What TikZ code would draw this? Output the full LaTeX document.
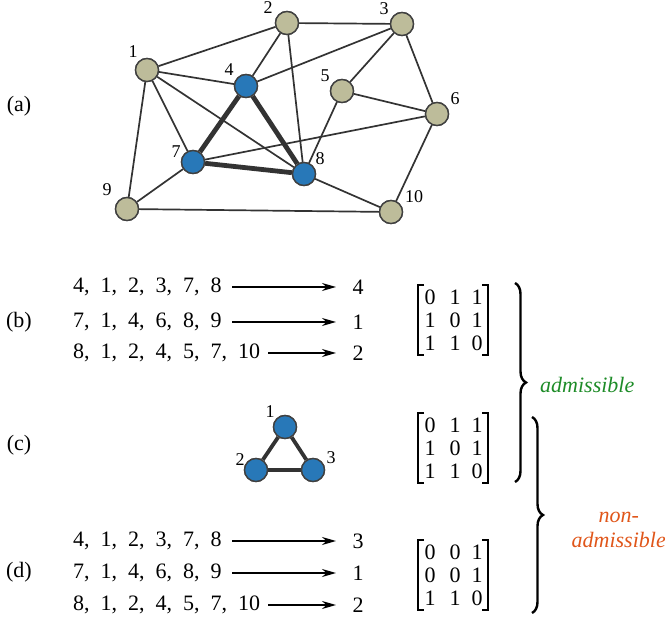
\documentclass[tikz,border=0pt]{standalone}
\usepackage{fontspec}
\setmainfont{Liberation Serif}
\usetikzlibrary{decorations.pathreplacing,arrows.meta}
\definecolor{khaki}{HTML}{BDBC9A}
\definecolor{nblue}{HTML}{2878B8}
\definecolor{adm}{HTML}{1E8C28}
\definecolor{nadm}{HTML}{E0561A}
\begin{document}
\begin{tikzpicture}[x=1pt,y=-1pt,
  gn/.style={circle,draw=black!75,line width=1.4pt,fill=khaki,minimum size=23pt,inner sep=0pt},
  bn/.style={gn,fill=nblue},
  lbl/.style={font=\fontsize{18}{20}\selectfont,inner sep=0pt},
  ed/.style={draw=black!80,line width=1.7pt},
  thk/.style={draw=black!80,line width=4.8pt},
  txt/.style={font=\fontsize{22}{25}\selectfont,inner sep=0pt},
  arr/.style={line width=1.7pt,-{Stealth[length=14pt,width=8pt]}},
  brk/.style={line width=2.6pt},
  br/.style={decorate,decoration={brace,amplitude=11pt},line width=2.4pt}]
\useasboundingbox (0,0) rectangle (665,617);
% top graph
\node[gn] (n1) at (147,70) {};
\node[gn] (n2) at (287,23) {};
\node[gn] (n3) at (402,24) {};
\node[bn] (n4) at (246,86) {};
\node[gn] (n5) at (342,91) {};
\node[gn] (n6) at (437,114) {};
\node[bn] (n7) at (193,162) {};
\node[bn] (n8) at (304,174) {};
\node[gn] (n9) at (127,209) {};
\node[gn] (n10) at (391,212) {};
\foreach \a/\b in {1/2,1/4,1/7,1/8,1/9,2/3,2/4,2/8,3/4,3/5,3/6,5/6,5/8,6/7,6/10,8/10,9/7,9/10}
  \path[ed] (n\a) -- (n\b);
\path[thk] (n4) -- (n7);
\path[thk] (n4) -- (n8);
\path[thk] (n7) -- (n8);
\foreach \i/\c in {1/khaki,2/khaki,3/khaki,4/nblue,5/khaki,6/khaki,7/nblue,8/nblue,9/khaki,10/khaki}
  \node[gn,fill=\c] at (n\i) {};
\node[lbl] (l1) at (133,52) {1};
\node[lbl] (l2) at (268,8) {2};
\node[lbl] (l3) at (384,9) {3};
\node[lbl] (l4) at (229,70) {4};
\node[lbl] (l5) at (325,76) {5};
\node[lbl] (l6) at (455,99) {6};
\node[lbl] (l7) at (176,152) {7};
\node[lbl] (l8) at (320,159) {8};
\node[lbl] (l9) at (107,190) {9};
\node[lbl] (l10) at (414,197) {10};
% labels
\node[txt] (la) at (19,106) {(a)};
\node[txt] (lb) at (19,322) {(b)};
\node[txt] (lc) at (19,445) {(c)};
\node[txt] (ld) at (19,572) {(d)};
% lists
\newcommand{\sep}{,\enspace}
\foreach \y/\l/\e/\r/\n in {287/4\sep1\sep2\sep3\sep7\sep8/232/4/b1,322/7\sep1\sep4\sep6\sep8\sep9/232/1/b2,353/8\sep1\sep2\sep4\sep5\sep7\sep10/268/2/b3,
   541/4\sep1\sep2\sep3\sep7\sep8/232/3/d1,573/7\sep1\sep4\sep6\sep8\sep9/232/1/d2,605/8\sep1\sep2\sep4\sep5\sep7\sep10/268/2/d3}{
  \node[txt,anchor=west] (s\n) at (73,\y) {\l};
  \node[txt] (r\n) at (358,\y) {\r};
  \coordinate (c\n) at (\e,\y);
  \coordinate (e\n) at (336,\y);
  \draw[arr] (c\n) -- (e\n);
}
% triangle
\node[bn] (t1) at (285,427) {};
\node[bn] (t2) at (256,470) {};
\node[bn] (t3) at (313,470) {};
\path[thk,line width=3.8pt] (t1)--(t2) (t2)--(t3) (t3)--(t1);
\foreach \i in {1,2,3} \node[bn] at (t\i) {};
\node[lbl] (tl1) at (270,412) {1};
\node[lbl] (tl2) at (240,460) {2};
\node[lbl] (tl3) at (331,458) {3};
% matrices
\foreach \top/\m/\a/\b/\c/\d/\e/\f/\g/\h/\k in {285/mb/0/1/1/1/0/1/1/1/0,413/mc/0/1/1/1/0/1/1/1/0,540/md/0/0/1/0/0/1/1/1/0}{
  \coordinate (\m tl) at (418,\top);
  \draw[brk] (\m tl) ++(6,0) -| ++(-6,70) -- ++(6,0);
  \draw[brk] (\m tl) ++(64,0) -| ++(6,70) -- ++(-6,0);
  \foreach \x/\yy/\v in {430/12/\a,455/12/\b,477/12/\c,430/35/\d,455/35/\e,477/35/\f,430/58/\g,455/58/\h,477/58/\k}
    \node[txt] at ([shift={(\x-418,\yy)}]\m tl) {\v};
}
% braces
\coordinate (b1s) at (515,283);
\coordinate (b1e) at (515,482);
\draw[br] (b1s) -- (b1e);
\coordinate (b2s) at (532,417);
\coordinate (b2e) at (532,613);
\draw[br] (b2s) -- (b2e);
\node[txt,font=\fontsize{22}{25}\selectfont\itshape,text=adm,anchor=west] (adm) at (540,385) {admissible};
\node[txt,font=\fontsize{22}{25}\selectfont\itshape,text=nadm,align=center,anchor=east] (nadm) at (666,530) {non-\\admissible};
\end{tikzpicture}
\end{document}
